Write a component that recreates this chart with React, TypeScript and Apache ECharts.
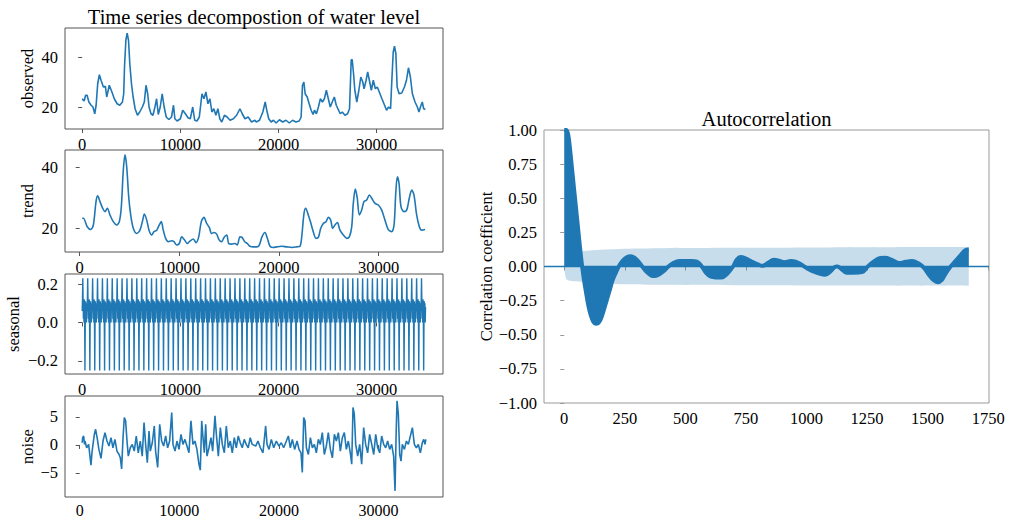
import React, { useEffect, useRef } from "react";
import * as echarts from "echarts";

const C0 = "#1f77b4";
const BAND = "rgba(31,119,180,0.25)";
const FONT = "'Liberation Serif', 'Times New Roman', serif";

// ---------- observed ----------
const observedX = [0, 200, 350, 500, 680, 910, 1100, 1280, 1420, 1580, 1750, 1920, 2160, 2360, 2500, 2760, 3030, 3270, 3560, 3830, 4100, 4230, 4310, 4450, 4580, 4720, 4850, 5020, 5190, 5390, 5630, 5860, 6130, 6330, 6500, 6670, 6810, 7010, 7210, 7410, 7580, 7750, 7950, 8150, 8350, 8560, 8830, 9100, 9300, 9440, 9670, 10000, 10240, 10510, 10780, 11010, 11260, 11460, 11690, 11930, 12200, 12400, 12600, 12810, 13010, 13210, 13410, 13620, 13820, 14020, 14220, 14490, 14760, 15060, 15400, 15730, 16070, 16300, 16580, 16910, 17250, 17590, 17730, 18060, 18400, 18640, 18800, 19000, 19240, 19480, 19750, 20090, 20420, 20760, 21100, 21430, 21770, 22100, 22300, 22440, 22580, 22710, 22920, 23120, 23320, 23520, 23660, 23860, 24060, 24260, 24470, 24670, 24870, 25070, 25270, 25470, 25680, 25880, 26080, 26280, 26490, 26760, 27030, 27230, 27400, 27500, 27640, 27770, 27970, 28180, 28380, 28580, 28710, 28920, 29080, 29250, 29450, 29650, 29860, 30060, 30260, 30530, 30800, 31000, 31210, 31410, 31540, 31680, 31810, 31950, 32080, 32280, 32550, 32820, 33030, 33230, 33430, 33630, 33900, 34140, 34300, 34510, 34640, 34780, 34950];
const observedY = [23.3, 22.4, 24.7, 24.7, 22, 20.7, 20, 17.3, 20.7, 29.3, 32.9, 30.7, 28, 28.3, 24, 28.7, 26, 23.3, 21.3, 20.7, 22, 25.3, 36, 46.7, 49.5, 46.7, 37.3, 29.3, 24, 19.3, 16.7, 18, 20, 22, 28.7, 25.3, 20, 17.3, 16.7, 20, 23.3, 17, 20, 25.3, 20, 16, 15, 16, 20.7, 15.3, 14.4, 15.3, 18.7, 17.3, 15.7, 15.3, 20, 14.7, 14.4, 16, 25.3, 23.3, 26, 21.3, 23.3, 18, 19.3, 16.7, 19.3, 15.3, 14, 16.7, 16, 14.7, 15.3, 16.7, 19.3, 17.3, 15.3, 16, 14, 14.7, 14, 14.7, 18, 22, 18.7, 15.3, 14, 14.7, 13.6, 14.9, 14, 14.7, 13.6, 14.7, 14, 14.4, 16, 28.7, 30, 25.3, 24, 21.3, 18.7, 17, 18.7, 17.3, 20, 23.3, 22, 23.3, 26.7, 23.3, 20, 22, 24, 20.7, 19, 17.3, 18, 16.7, 17.3, 19.3, 38.7, 39, 33.3, 26.7, 22, 26.7, 32, 30, 27.3, 30.7, 34, 30.7, 26.7, 30.7, 27.3, 28, 26, 23.3, 20.7, 18.7, 20, 19.3, 30.7, 42, 44.3, 41.3, 28, 25.3, 25.6, 28, 30.7, 35.7, 32, 25.3, 22, 20, 18, 20.7, 22, 19.3, 19];

// ---------- trend ----------
const trendX = [250, 370, 760, 1100, 1370, 1640, 1800, 2040, 2310, 2540, 2770, 3040, 3370, 3710, 3980, 4180, 4380, 4550, 4720, 4920, 5120, 5380, 5720, 6050, 6330, 6490, 6730, 6960, 7230, 7460, 7730, 7990, 8190, 8390, 8630, 8900, 9240, 9470, 9740, 10000, 10240, 10500, 10800, 11070, 11410, 11680, 11950, 12210, 12480, 12750, 13010, 13250, 13480, 13750, 14010, 14250, 14490, 14760, 14960, 15260, 15590, 15820, 16090, 16300, 16570, 16830, 17100, 17430, 17770, 18030, 18300, 18600, 18840, 19110, 19440, 19780, 20280, 20780, 21290, 21790, 22120, 22290, 22520, 22690, 22950, 23190, 23450, 23720, 23960, 24200, 24460, 24730, 24960, 25200, 25400, 25630, 25870, 26130, 26470, 26810, 27070, 27310, 27470, 27670, 27870, 28070, 28310, 28540, 28810, 29080, 29320, 29650, 29980, 30320, 30650, 30980, 31320, 31560, 31730, 31890, 32060, 32260, 32560, 32830, 33090, 33330, 33560, 33830, 34100, 34330, 34670];
const trendY = [23.3, 23.3, 20.5, 19.6, 21.1, 28.8, 30.7, 28.8, 26.6, 25.5, 26.6, 24.4, 22.2, 21.1, 22.2, 27.1, 39.2, 44.2, 40.3, 30.4, 24.4, 20, 18.3, 19.4, 22.7, 24.7, 22.7, 19.4, 17.8, 18.9, 19.4, 21.1, 22.2, 19.4, 16.7, 15.6, 15.9, 15.6, 14.5, 15, 17.2, 16.3, 15, 15.8, 16.5, 15.3, 17.2, 22.2, 23.6, 21.6, 20.3, 18.3, 18.6, 18.1, 16.1, 15.6, 17, 17.8, 15, 14.8, 15, 14.5, 17.2, 17, 15.6, 15, 14.1, 13.9, 13.9, 14.5, 17.2, 18.6, 16.7, 14.1, 13.7, 13.9, 14.1, 13.9, 13.7, 13.9, 14.1, 17.2, 24.9, 26.6, 24.4, 21.9, 18.9, 16.7, 17, 20, 21.6, 22.2, 23.6, 22.7, 20, 21.1, 21.9, 19.4, 17.8, 16.7, 17.2, 20.5, 28.2, 32.9, 29.9, 24.4, 26, 28.8, 29.3, 31, 29.9, 28.2, 27.7, 26, 22.7, 19.6, 18.9, 21.1, 31.5, 37, 34.8, 27.1, 25.5, 26, 29.9, 32.6, 31, 24.4, 20.5, 19.4, 19.6];

// ---------- seasonal (one period, repeated every period) ----------
const seasonalPeriod = 500;
const seasonalCycles = 70;
const seasonalCycle = [0.06, 0.12, 0.23, 0.12, 0.02, 0.1, 0.0, 0.12, 0.03, -0.25, 0.0, 0.11, 0.02, 0.1, 0.0, 0.08];

// ---------- noise ----------
const noiseX = [250, 300, 400, 480, 530, 700, 900, 1130, 1250, 1470, 1600, 1750, 1930, 2140, 2340, 2540, 2740, 2940, 3140, 3340, 3540, 3740, 3950, 4080, 4210, 4350, 4480, 4610, 4750, 4880, 5080, 5280, 5480, 5680, 5880, 6080, 6280, 6460, 6620, 6790, 6960, 7090, 7290, 7490, 7620, 7830, 8030, 8230, 8430, 8630, 8830, 9030, 9240, 9370, 9570, 9770, 9970, 10170, 10370, 10570, 10770, 10970, 11170, 11370, 11570, 11770, 11980, 12110, 12250, 12380, 12510, 12650, 12780, 12980, 13180, 13350, 13580, 13750, 13920, 14120, 14320, 14520, 14720, 14920, 15120, 15320, 15520, 15720, 15920, 16120, 16320, 16520, 16720, 16920, 17120, 17320, 17670, 17900, 18140, 18400, 18670, 18810, 19010, 19240, 19480, 19740, 20010, 20240, 20480, 20750, 20950, 21150, 21350, 21580, 21820, 22020, 22220, 22350, 22490, 22620, 22760, 22960, 23160, 23360, 23560, 23760, 23960, 24160, 24360, 24560, 24760, 24960, 25170, 25370, 25570, 25770, 25970, 26170, 26370, 26570, 26770, 26970, 27170, 27310, 27440, 27570, 27710, 27910, 28110, 28310, 28510, 28710, 28910, 29110, 29320, 29520, 29720, 29920, 30120, 30320, 30520, 30720, 30920, 31120, 31320, 31520, 31660, 31760, 31860, 31990, 32130, 32260, 32390, 32600, 32800, 33000, 33200, 33400, 33600, 33800, 34000, 34200, 34400, 34540, 34670, 34750];
const noiseY = [0.4, 1.3, 1.6, 0.1, 0.7, -0.5, 0.1, -3.6, -1.1, 1.9, 2.8, 1.3, -0.8, -2.4, 0.7, 2.2, 0.7, -0.2, 1.3, -0.5, 1, -1.1, -1.7, -2.3, -4.3, 1.3, 4.9, 4.3, 0.7, -2, -0.5, 0.1, -1.1, 1.6, -1.4, 0.7, -2, 4, 0.1, -3.15, 2.5, -1.1, 0.4, 3.4, -1.1, -4.0, 3.7, 0.7, -0.2, 1.6, -0.5, 0.7, 5.8, 0.1, -1.1, 0.7, -0.8, 1.9, 0.1, 1, -0.2, -1.4, 4.3, 0.1, 0.7, -0.8, -3.5, -4.5, 4.3, 1.3, -1.4, 3.7, -2, -0.5, 1.3, -1.1, 5.2, 1.3, -2, 3.1, 0.1, -1.4, 3.4, -0.5, 0.7, -1.4, 1.3, -0.5, 1.6, 0.4, -0.5, 1, 0.1, -0.5, 1.3, 0.1, -0.2, 0.7, -0.5, -1.4, 3.4, 0.1, -0.8, 1, -0.5, 0.7, -0.2, 0.4, -0.5, 0.7, 1.6, -0.5, 1, -0.8, 0.7, -0.8, -1.4, -4.9, 4.9, 4.3, -0.5, -1.7, 1.3, -0.5, 0.1, -1.4, 1, 0.1, 2.2, -1.7, -0.2, 2.2, -0.8, -2.3, 1.9, 0.7, 2.2, -1.1, 1.3, 2.2, -0.8, 0.7, -1.4, -3.45, 6.7, 5.5, 0.1, -2, 0.1, -3.45, 3.1, 0.1, -1.4, 1.9, 0.1, -1.7, 1.9, -0.5, -1.4, 1.6, 0.1, -0.5, 0.7, -0.8, 0.1, -2, -8.2, 1.3, 7.9, 5.5, -1.7, -2.9, 0.1, -0.8, 0.7, 0.1, 1.6, 3.1, 0.1, -0.5, 0.1, -1.4, 0.4, 1, 0.1, 1.0];

// ---------- autocorrelation ----------
const acfLags = [0, 8, 16, 24, 32, 40, 48, 56, 64, 72, 80, 90, 100, 110, 120, 130, 140, 150, 160, 170, 180, 190, 200, 212, 225, 240, 258, 275, 290, 305, 322, 340, 358, 372, 390, 410, 430, 450, 475, 500, 525, 548, 568, 585, 605, 625, 650, 672, 697, 712, 728, 748, 775, 800, 818, 840, 866, 890, 910, 935, 955, 978, 1000, 1025, 1050, 1077, 1100, 1116, 1128, 1142, 1165, 1195, 1230, 1253, 1280, 1305, 1325, 1350, 1385, 1410, 1436, 1460, 1485, 1505, 1525, 1541, 1558, 1575, 1595, 1615, 1635, 1652, 1665, 1670];
const acfValues = [1.0, 1.0, 0.97, 0.86, 0.72, 0.58, 0.44, 0.3, 0.16, 0.03, -0.08, -0.19, -0.29, -0.36, -0.405, -0.42, -0.415, -0.39, -0.34, -0.28, -0.22, -0.16, -0.1, -0.05, 0.0, 0.04, 0.068, 0.075, 0.065, 0.04, 0.0, -0.04, -0.065, -0.07, -0.06, -0.035, 0.0, 0.025, 0.04, 0.04, 0.04, 0.035, 0.0, -0.045, -0.075, -0.08, -0.08, -0.055, 0.0, 0.05, 0.07, 0.06, 0.035, 0.015, 0.005, 0.025, 0.05, 0.04, 0.032, 0.04, 0.035, 0.015, -0.01, -0.035, -0.05, -0.06, -0.035, -0.005, 0.0, -0.015, -0.045, -0.045, -0.04, 0.0, 0.04, 0.062, 0.065, 0.05, 0.025, 0.035, 0.04, 0.025, -0.01, -0.06, -0.1, -0.115, -0.1, -0.05, 0.0, 0.04, 0.08, 0.115, 0.125, 0.125];
const confLags = [1, 2, 4, 7, 12, 20, 40, 80, 150, 250, 400, 700, 1100, 1670];
const confValues = [0.02, 0.04, 0.065, 0.085, 0.097, 0.103, 0.108, 0.113, 0.122, 0.13, 0.134, 0.137, 0.14, 0.142];

const decompTicks = [0, 10000, 20000, 30000];
const acfXTicks = [0, 250, 500, 750, 1000, 1250, 1500, 1750];
const acfYTicks = [-1, -0.75, -0.5, -0.25, 0, 0.25, 0.5, 0.75, 1];

const pairs = (xs: number[], ys: number[]) => xs.map((x, i) => [x, ys[i]]);
const minus = (s: string) => s.replace("-", "\u2212");

const LEFT_BORDER = "#555555";
const RIGHT_BORDER = "#999999";
const TICK_FONT = 16.5;

function xAxis(gridIndex: number, min: number, max: number, ticks: number[], border: string, margin = 7, fontSize = TICK_FONT) {
  return {
    type: "value",
    gridIndex,
    min,
    max,
    axisLine: { show: false },
    splitLine: { show: false },
    axisTick: { show: true, length: 4, lineStyle: { color: border }, customValues: ticks },
    axisLabel: {
      customValues: ticks,
      margin,
      color: "#000",
      fontFamily: FONT,
      fontSize,
      lineHeight: fontSize,
      formatter: (v: number) => minus(String(v)),
    },
  };
}

function yAxis(gridIndex: number, min: number, max: number, ticks: number[], name: string, nameGap: number, digits: number, border: string, interval?: number) {
  const ax: any = {
    type: "value",
    gridIndex,
    min,
    max,
    name,
    nameLocation: "middle",
    nameRotate: 90,
    nameGap,
    nameTextStyle: { fontFamily: FONT, fontSize: 16.5, color: "#000" },
    axisLine: { show: false },
    splitLine: { show: false },
    axisTick: { show: true, length: 4, lineStyle: { color: border } },
    axisLabel: {
      margin: 7,
      color: "#000",
      fontFamily: FONT,
      fontSize: TICK_FONT,
      formatter: (v: number) => minus(v.toFixed(digits)),
    },
  };
  if (interval) {
    ax.interval = interval;
  } else {
    ax.axisTick.customValues = ticks;
    ax.axisLabel.customValues = ticks;
  }
  return ax;
}

export default function App() {
  const ref = useRef<HTMLDivElement>(null);
  useEffect(() => {
    document.body.style.margin = "0";
    if (!ref.current) return;
    const chart = echarts.init(ref.current, undefined, { renderer: "svg" });

    const seasonalData: number[][] = [];
    for (let c = 0; c < seasonalCycles; c++) {
      for (let k = 0; k < seasonalCycle.length; k++) {
        seasonalData.push([c * seasonalPeriod + (k * seasonalPeriod) / seasonalCycle.length, seasonalCycle[k]]);
      }
    }

    const lineBase = {
      type: "line",
      showSymbol: false,
      symbol: "none",
      lineStyle: { color: C0, width: 1.6 },
      itemStyle: { color: C0 },
      silent: true,
    };

    const gridBase = { show: true, borderColor: LEFT_BORDER, borderWidth: 1, backgroundColor: "transparent", outerBoundsMode: "none" };

    const ACF_LEFT = 544;
    const ACF_WIDTH = 445;

    chart.setOption({
      animation: false,
      backgroundColor: "#ffffff",
      graphic: [
        {
          type: "text",
          x: 254,
          y: 17,
          style: { text: "Time series decompostion of water level", font: `20.5px ${FONT}`, fill: "#000", align: "center", verticalAlign: "middle", textAlign: "center", textVerticalAlign: "middle" },
        },
        {
          type: "text",
          x: ACF_LEFT + ACF_WIDTH / 2,
          y: 119,
          style: { text: "Autocorrelation", font: `20.5px ${FONT}`, fill: "#000", align: "center", verticalAlign: "middle", textAlign: "center", textVerticalAlign: "middle" },
        },
      ],
      grid: [
        { ...gridBase, left: 65, top: 28, width: 378, height: 101 },
        { ...gridBase, left: 65, top: 150, width: 378, height: 102 },
        { ...gridBase, left: 65, top: 274, width: 378, height: 100 },
        { ...gridBase, left: 65, top: 396, width: 378, height: 101 },
        { ...gridBase, borderColor: RIGHT_BORDER, left: ACF_LEFT, top: 130, width: ACF_WIDTH, height: 273 },
      ],
      xAxis: [
        xAxis(0, -1750, 36750, decompTicks, LEFT_BORDER),
        xAxis(1, -1475, 36475, decompTicks, LEFT_BORDER),
        xAxis(2, -1750, 36750, decompTicks, LEFT_BORDER),
        xAxis(3, -1475, 36475, decompTicks, LEFT_BORDER, 5, 16),
        xAxis(4, -83.5, 1753.5, acfXTicks, RIGHT_BORDER),
      ],
      yAxis: [
        yAxis(0, 11.2, 51.6, [20, 40], "observed", 29, 0, LEFT_BORDER),
        yAxis(1, 12.2, 45.8, [20, 40], "trend", 29, 0, LEFT_BORDER),
        yAxis(2, -0.268, 0.252, [-0.2, 0, 0.2], "seasonal", 43, 1, LEFT_BORDER),
        yAxis(3, -9.3, 8.75, [-5, 0, 5], "noise", 29, 0, LEFT_BORDER),
        yAxis(4, -1, 1, acfYTicks, "Correlation coefficient", 47, 2, RIGHT_BORDER, 0.25),
      ],
      series: [
        { ...lineBase, name: "observed", xAxisIndex: 0, yAxisIndex: 0, data: pairs(observedX, observedY) },
        { ...lineBase, name: "trend", xAxisIndex: 1, yAxisIndex: 1, smooth: 0.3, data: pairs(trendX, trendY) },
        { ...lineBase, name: "seasonal", xAxisIndex: 2, yAxisIndex: 2, lineStyle: { color: C0, width: 1.4 }, data: seasonalData },
        { ...lineBase, name: "noise", xAxisIndex: 3, yAxisIndex: 3, data: pairs(noiseX, noiseY) },
        {
          ...lineBase,
          name: "conf upper",
          xAxisIndex: 4,
          yAxisIndex: 4,
          smooth: 0.3,
          lineStyle: { width: 0, opacity: 0 },
          areaStyle: { color: BAND, opacity: 1, origin: 0 },
          data: pairs(confLags, confValues),
        },
        {
          ...lineBase,
          name: "conf lower",
          xAxisIndex: 4,
          yAxisIndex: 4,
          smooth: 0.3,
          lineStyle: { width: 0, opacity: 0 },
          areaStyle: { color: BAND, opacity: 1, origin: 0 },
          data: pairs(confLags, confValues.map((v) => -v)),
        },
        {
          ...lineBase,
          name: "acf",
          xAxisIndex: 4,
          yAxisIndex: 4,
          smooth: 0.4,
          z: 3,
          lineStyle: { color: C0, width: 4 },
          areaStyle: { color: C0, opacity: 1, origin: 0 },
          data: pairs(acfLags, acfValues),
          markLine: {
            silent: true,
            symbol: "none",
            label: { show: false },
            lineStyle: { color: C0, width: 1.3, type: "solid" },
            data: [{ yAxis: 0 }],
          },
        },
      ],
    });
    return () => chart.dispose();
  }, []);
  return <div ref={ref} style={{ position: "absolute", left: 0, top: 0, width: 1022, height: 519 }} />;
}
